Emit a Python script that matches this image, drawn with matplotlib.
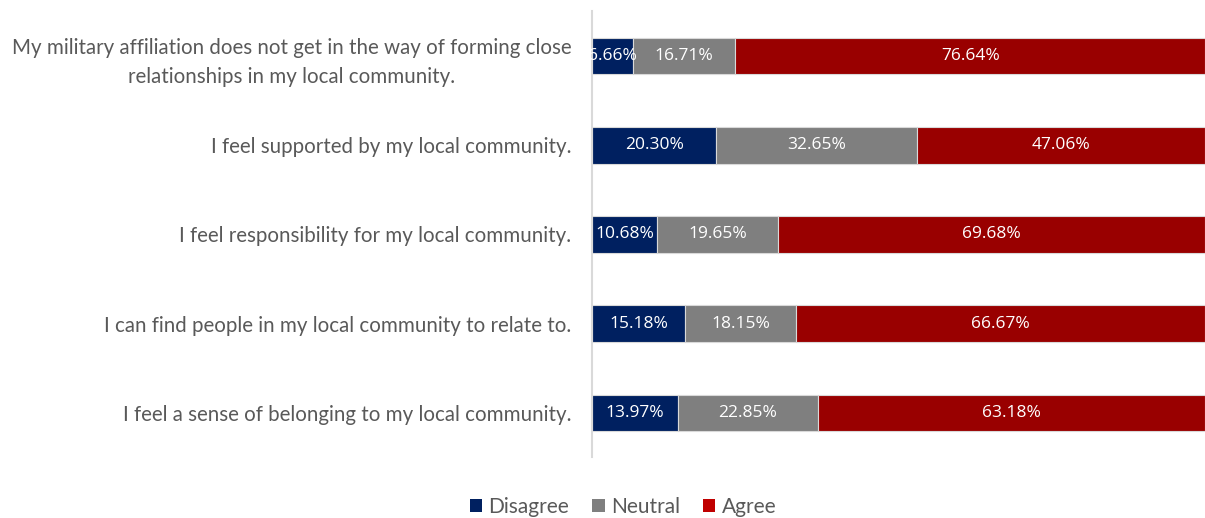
import numpy as np
import matplotlib.pyplot as plt
from matplotlib.patches import Patch

statements = [
    'My military affiliation does not get in the way of forming close\nrelationships in my local community.',
    'I feel supported by my local community.',
    'I feel responsibility for my local community.',
    'I can find people in my local community to relate to.',
    'I feel a sense of belonging to my local community.',
]
disagree = [6.66, 20.30, 10.68, 15.18, 13.97]
neutral = [16.71, 32.65, 19.65, 18.15, 22.85]
agree = [76.64, 47.06, 69.68, 66.67, 63.18]

series = ['Disagree', 'Neutral', 'Agree']
bar_colors = ['#002060', '#7f7f7f', '#990000']
legend_colors = ['#002060', '#7f7f7f', '#c00000']

fig = plt.figure(figsize=(12.05, 5.18), dpi=100)
ax = fig.add_axes([0.4913, 0.1168, 0.5087, 0.8610])

y = np.arange(len(statements))[::-1]
left = np.zeros(len(statements))
for name, vals, col in zip(series, [disagree, neutral, agree], bar_colors):
    vals = np.array(vals)
    ax.barh(y, vals, left=left, height=0.41, color=col,
            edgecolor='#d9d9d9', linewidth=0.8)
    for yi, l, v in zip(y, left, vals):
        ax.text(l + v / 2, yi, f'{v:.2f}%', ha='center', va='center',
                color='white', fontsize=12.5, family='Open Sans')
    left += vals

ax.set_xlim(0, 100.01)
ax.set_ylim(-0.5, 4.5)
ax.set_yticks(y)
ax.set_yticklabels(statements, fontsize=14.8, color='#595959',
                   family='Lato', ha='right', multialignment='center',
                   linespacing=1.55)
ax.tick_params(axis='y', length=0, pad=15)
ax.set_xticks([])
for s in ['top', 'right', 'bottom']:
    ax.spines[s].set_visible(False)
ax.spines['left'].set_color('#d9d9d9')
ax.spines['left'].set_linewidth(1.5)

handles = [Patch(facecolor=c, label=n) for n, c in zip(series, legend_colors)]
fig.legend(handles=handles, loc='lower center', bbox_to_anchor=(0.517, -0.034),
           ncol=3, frameon=False, handlelength=0.6, handleheight=0.6,
           handletextpad=0.3, columnspacing=1.1,
           prop={'family': 'Lato', 'size': 15}, labelcolor='#595959')

fig.savefig('out.png', dpi=100)
